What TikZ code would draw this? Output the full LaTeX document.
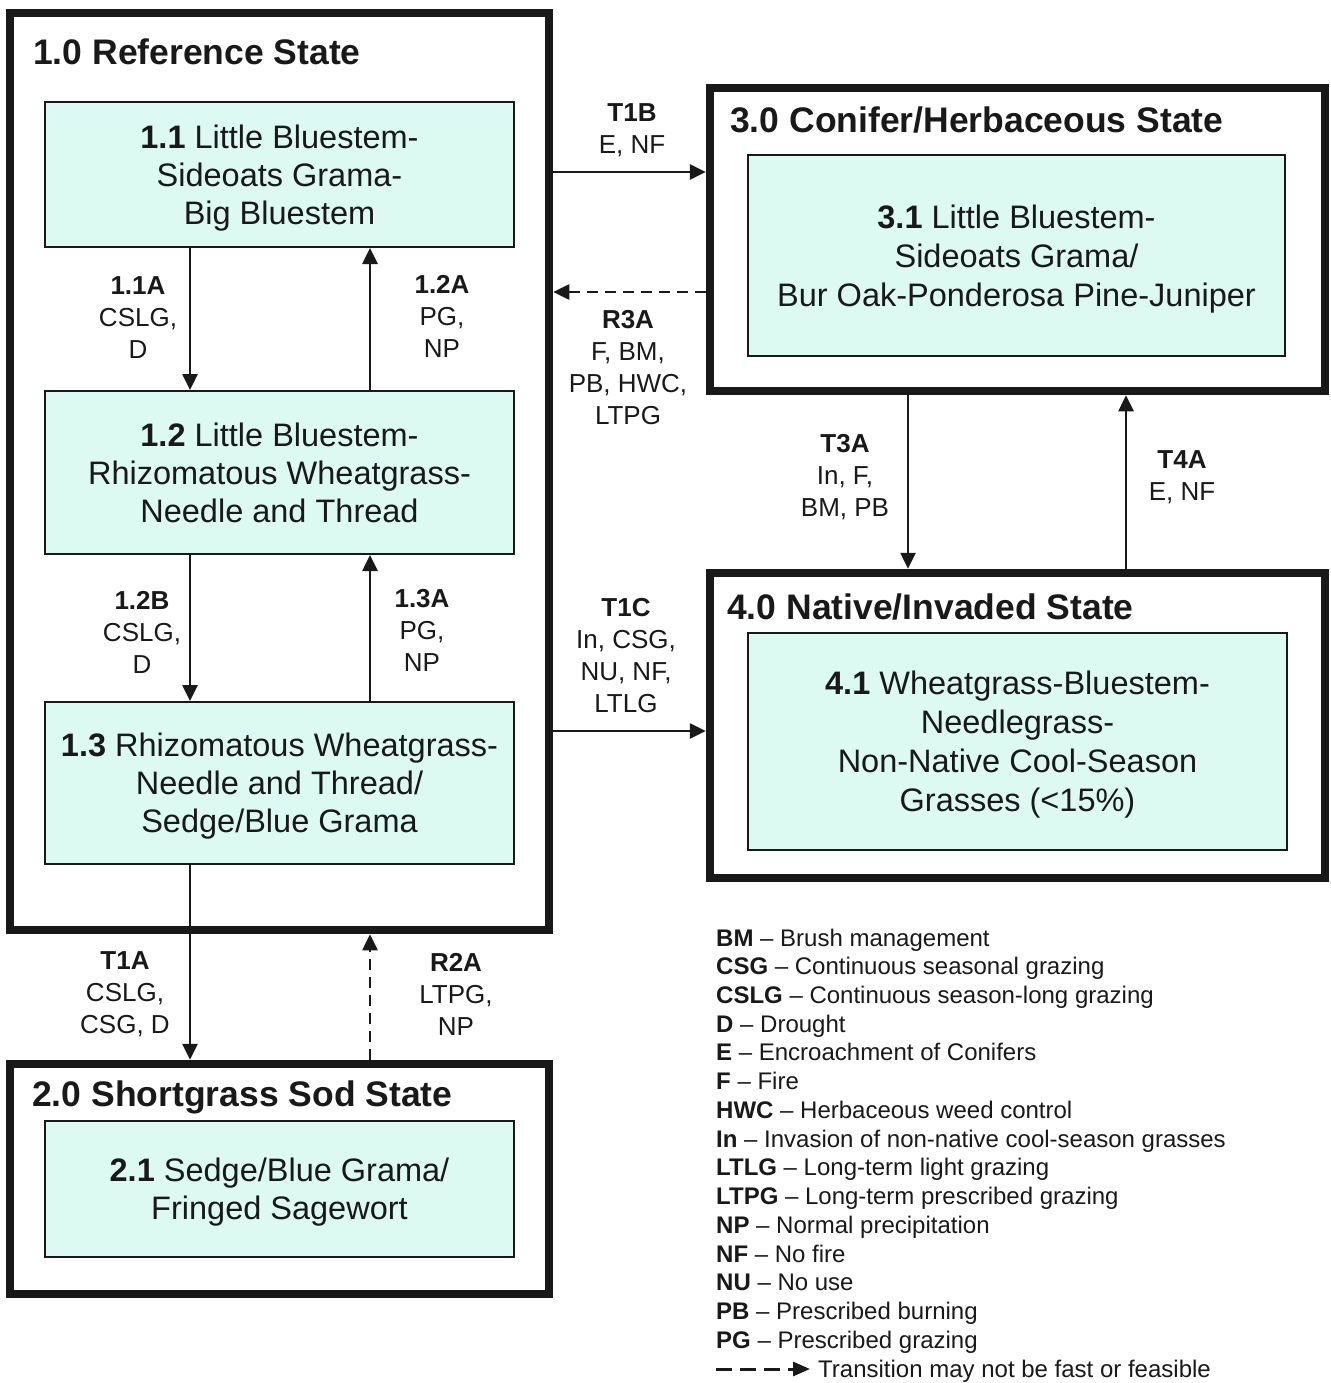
\documentclass[tikz,border=0pt]{standalone}
\usepackage{fontspec}
\setmainfont{Liberation Sans}
\usetikzlibrary{arrows.meta}
\definecolor{boxfill}{RGB}{220,249,242}
\definecolor{ink}{RGB}{25,25,25}
\begin{document}
\begin{tikzpicture}[x=1pt,y=-1pt,
  outbox/.style={draw=ink, line width=8.5pt, inner sep=0pt},
  inbox/.style={draw=ink, line width=2pt, fill=boxfill, align=center, inner sep=0pt,
    text=ink, text depth=0pt, font=\fontsize{32.5pt}{38pt}\selectfont},
  lbl/.style={align=center, inner sep=0pt, text=ink, font=\fontsize{26pt}{32pt}\selectfont},
  ttl/.style={anchor=base west, inner sep=0pt, text=ink, font=\fontsize{35.5pt}{40pt}\selectfont\bfseries},
  arr/.style={draw=ink, line width=2.6pt, -{Triangle[length=16pt,width=15pt]}},
  dsh/.style={arr, dash pattern=on 11pt off 7pt},
  leg/.style={anchor=base west, inner sep=0pt, text=ink, font=\fontsize{24pt}{28pt}\selectfont}
]
\useasboundingbox[fill=white] (0,0) rectangle (1330,1383);

% State boxes
\node[outbox, minimum width=539pt, minimum height=917pt] (s1) at (279.5,471.5) {};
\node[outbox, minimum width=539pt, minimum height=230pt] (s2) at (279.5,1179) {};
\node[outbox, minimum width=615pt, minimum height=303pt] (s3) at (1017.5,239.5) {};
\node[outbox, minimum width=615pt, minimum height=305pt] (s4) at (1017.5,725.5) {};

% Titles
\node[ttl] (t1) at (33,65) {1.0 Reference State};
\node[ttl] (t2) at (32,1106) {2.0 Shortgrass Sod State};
\node[ttl] (t3) at (730,133) {3.0 Conifer/Herbaceous State};
\node[ttl] (t4) at (727,619) {4.0 Native/Invaded State};

% Community phases
\node[inbox, minimum width=469pt, minimum height=145pt] (b11) at (279.5,174.5)
  {\textbf{1.1} Little Bluestem-\\Sideoats Grama-\\Big Bluestem};
\node[inbox, minimum width=469pt, minimum height=163pt] (b12) at (279.5,472.5)
  {\textbf{1.2} Little Bluestem-\\Rhizomatous Wheatgrass-\\Needle and Thread};
\node[inbox, minimum width=469pt, minimum height=162pt] (b13) at (279.5,783)
  {\textbf{1.3} Rhizomatous Wheatgrass-\\Needle and Thread/\\Sedge/Blue Grama};
\node[inbox, minimum width=469pt, minimum height=136pt] (b21) at (279.5,1189)
  {\textbf{2.1} Sedge/Blue Grama/\\Fringed Sagewort};
\node[inbox, minimum width=537pt, minimum height=201pt, text depth=-5pt,
  font=\fontsize{32.5pt}{39pt}\selectfont] (b31) at (1016.5,255.5)
  {\textbf{3.1} Little Bluestem-\\Sideoats Grama/\\Bur Oak-Ponderosa Pine-Juniper};
\node[inbox, minimum width=539pt, minimum height=217pt, text depth=-2pt,
  font=\fontsize{32.5pt}{39pt}\selectfont] (b41) at (1017.5,741.5)
  {\textbf{4.1} Wheatgrass-Bluestem-\\Needlegrass-\\Non-Native Cool-Season\\Grasses (<15\%)};

% Helper coordinates for connector positions
\coordinate (xL) at (190,0);
\coordinate (xR) at (370,0);
\coordinate (x3A) at (908,0);
\coordinate (x4A) at (1126,0);
\coordinate (yT1B) at (0,172);
\coordinate (yR3A) at (0,292);
\coordinate (yT1C) at (0,731);

% Connectors within state 1
\draw[arr] (b11.south -| xL) -- (b12.north -| xL);
\draw[arr] (b12.north -| xR) -- (b11.south -| xR);
\draw[arr] (b12.south -| xL) -- (b13.north -| xL);
\draw[arr] (b13.north -| xR) -- (b12.south -| xR);
% state transitions
\draw[arr] (b13.south -| xL) -- (s2.north -| xL);
\draw[dsh] (s2.north -| xR) -- (s1.south -| xR);
\draw[arr] (s1.east |- yT1B) -- (s3.west |- yT1B);
\draw[dsh] (s3.west |- yR3A) -- (s1.east |- yR3A);
\draw[arr] (s1.east |- yT1C) -- (s4.west |- yT1C);
\draw[arr] (s3.south -| x3A) -- (s4.north -| x3A);
\draw[arr] (s4.north -| x4A) -- (s3.south -| x4A);

% Connector labels
\node[lbl] (l11a) at (138,318) {\textbf{1.1A}\\CSLG,\\D};
\node[lbl] (l12a) at (442,316) {\textbf{1.2A}\\PG,\\NP};
\node[lbl] (l12b) at (142,632) {\textbf{1.2B}\\CSLG,\\D};
\node[lbl] (l13a) at (422,630) {\textbf{1.3A}\\PG,\\NP};
\node[lbl] (lt1a) at (125,994) {\textbf{T1A}\\CSLG,\\CSG, D};
\node[lbl] (lr2a) at (456,994) {\textbf{R2A}\\LTPG,\\NP};
\node[lbl] (lt1b) at (632,130) {\textbf{T1B}\\E, NF};
\node[lbl] (lr3a) at (628,368) {\textbf{R3A}\\F, BM,\\PB, HWC,\\LTPG};
\node[lbl] (lt1c) at (626,656) {\textbf{T1C}\\In, CSG,\\NU, NF,\\LTLG};
\node[lbl] (lt3a) at (845,477) {\textbf{T3A}\\In, F,\\BM, PB};
\node[lbl] (lt4a) at (1182,477) {\textbf{T4A}\\E, NF};

% Legend
\foreach \ab/\txt [count=\i from 0] in {
  BM/Brush management,
  CSG/Continuous seasonal grazing,
  CSLG/Continuous season-long grazing,
  D/Drought,
  E/Encroachment of Conifers,
  F/Fire,
  HWC/Herbaceous weed control,
  In/Invasion of non-native cool-season grasses,
  LTLG/Long-term light grazing,
  LTPG/Long-term prescribed grazing,
  NP/Normal precipitation,
  NF/No fire,
  NU/No use,
  PB/Prescribed burning,
  PG/Prescribed grazing}
  \node[leg] (leg\i) at (716,{946+28.73*\i}) {\textbf{\ab} -- \txt};
\coordinate (la) at (716,1369);
\coordinate (lb) at (810,1369);
\draw[draw=ink, line width=3pt, dash pattern=on 16pt off 8pt, -{Triangle[length=17pt,width=14pt]}] (la) -- (lb);
\node[leg] (leg15) at (818,1377) {Transition may not be fast or feasible};
\end{tikzpicture}
\end{document}
